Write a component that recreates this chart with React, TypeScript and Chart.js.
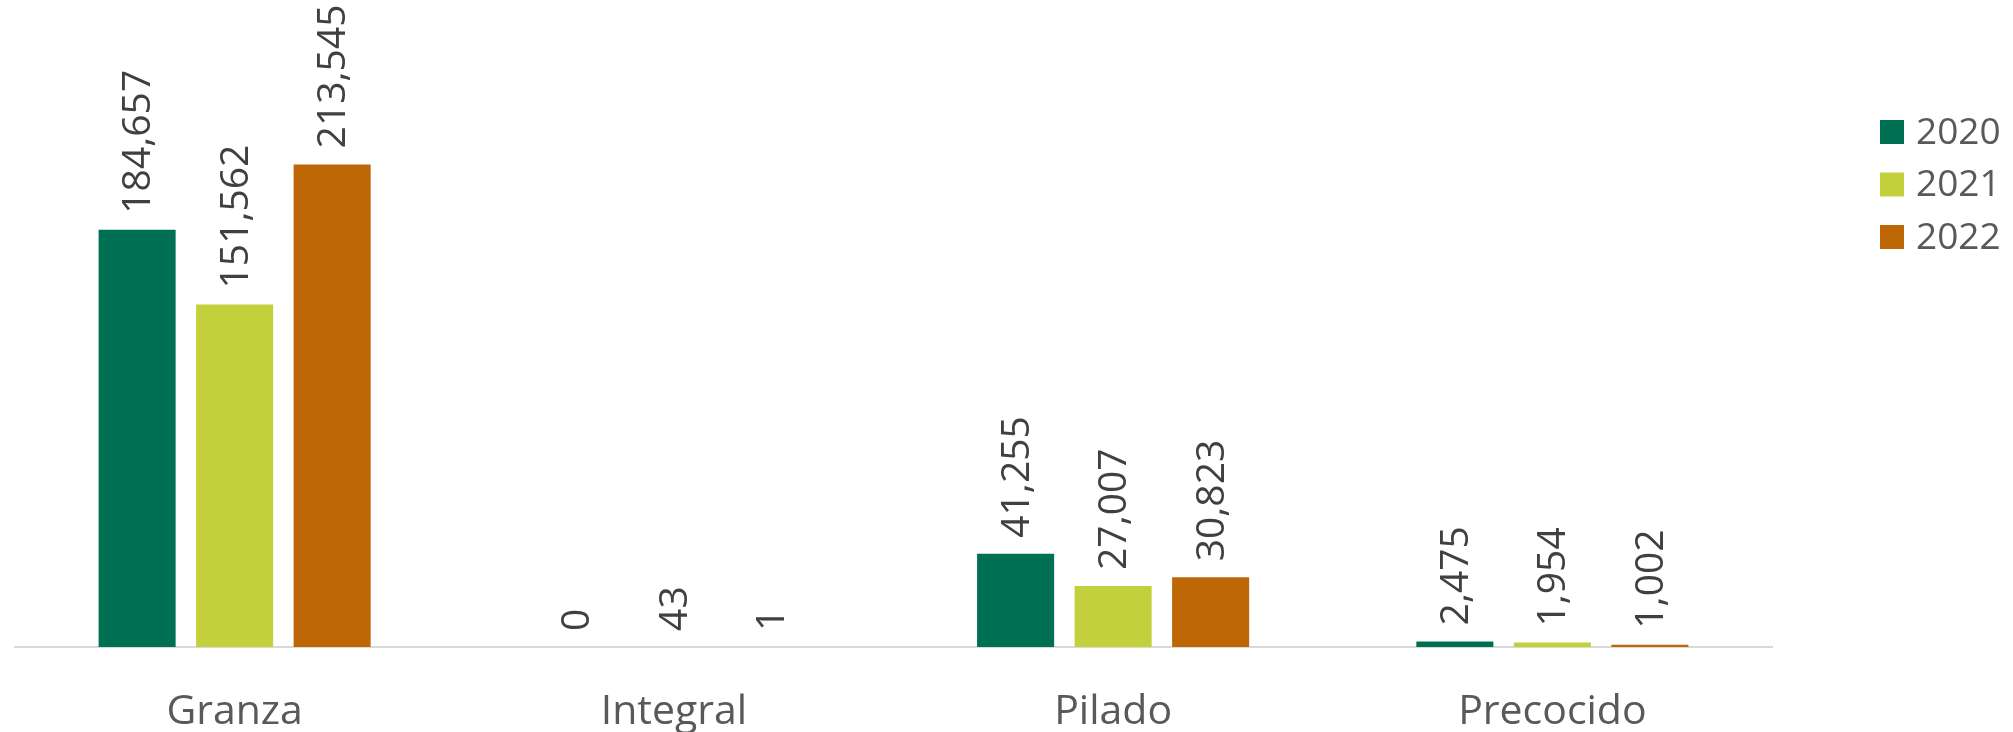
import React, { useEffect, useRef } from "react";
import { Chart, registerables } from "chart.js";

Chart.register(...registerables);

const categories = ["Granza", "Integral", "Pilado", "Precocido"];
const seriesNames = ["2020", "2021", "2022"];
const values2020 = [184657, 0, 41255, 2475];
const values2021 = [151562, 43, 27007, 1954];
const values2022 = [213545, 1, 30823, 1002];
const colors = ["#007054", "#C3D03B", "#BD6706"];

const FONT = "'Open Sans', sans-serif";

const valueLabelPlugin = {
  id: "valueLabels",
  afterDatasetsDraw(chart: any) {
    const ctx = chart.ctx;
    ctx.save();
    ctx.font = `39px ${FONT}`;
    ctx.fillStyle = "#404040";
    ctx.textAlign = "left";
    ctx.textBaseline = "middle";
    chart.data.datasets.forEach((ds: any, di: number) => {
      const meta = chart.getDatasetMeta(di);
      meta.data.forEach((el: any, i: number) => {
        const v = ds.data[i];
        const text = Number(v).toLocaleString("en-US");
        ctx.save();
        ctx.translate(el.x + 2, el.y - 16);
        ctx.rotate(-Math.PI / 2);
        ctx.fillText(text, 0, 0);
        ctx.restore();
      });
    });
    ctx.restore();
  },
};

const legendPlugin = {
  id: "customLegend",
  afterDraw(chart: any) {
    const ctx = chart.ctx;
    const area = chart.chartArea;
    const x0 = area.right + 108;
    const y0 = 132;
    const step = 52.5;
    const box = 24;
    ctx.save();
    ctx.font = `37px ${FONT}`;
    ctx.textAlign = "left";
    ctx.textBaseline = "middle";
    chart.data.datasets.forEach((ds: any, i: number) => {
      const cy = y0 + i * step;
      ctx.fillStyle = ds.backgroundColor;
      ctx.fillRect(x0, cy - box / 2, box, box);
      ctx.fillStyle = "#595959";
      ctx.fillText(ds.label, x0 + box + 12, cy + 1);
    });
    ctx.restore();
  },
};

export default function App() {
  const canvasRef = useRef<HTMLCanvasElement | null>(null);

  useEffect(() => {
    document.body.style.margin = "0";
    const canvas = canvasRef.current;
    if (!canvas) return;
    const seriesValues = [values2020, values2021, values2022];
    const chart = new Chart(canvas, {
      type: "bar",
      data: {
        labels: categories,
        datasets: seriesNames.map((name, i) => ({
          label: name,
          data: seriesValues[i],
          backgroundColor: colors[i],
          borderWidth: 0,
          categoryPercentage: 0.666,
          barPercentage: 0.79,
        })),
      },
      options: {
        responsive: false,
        devicePixelRatio: 1,
        animation: false,
        layout: { padding: { left: 15, right: 241, top: 82, bottom: -46 } },
        plugins: {
          legend: { display: false },
          tooltip: { enabled: false },
          title: { display: false },
        },
        scales: {
          x: {
            grid: { display: false, drawTicks: false },
            border: { display: true, color: "#D9D9D9", width: 2 },
            ticks: {
              color: "#595959",
              font: { family: FONT, size: 41, lineHeight: 1 },
              padding: 45,
            },
          },
          y: {
            display: false,
            min: 0,
            max: 250000,
          },
        },
      },
      plugins: [valueLabelPlugin, legendPlugin],
    });
    return () => chart.destroy();
  }, []);

  return (
    <div style={{ position: "absolute", left: 0, top: 0, width: 2013, height: 732, background: "#fff", overflow: "hidden" }}>
      <canvas ref={canvasRef} width={2013} height={732} style={{ width: 2013, height: 732, display: "block" }} />
    </div>
  );
}
